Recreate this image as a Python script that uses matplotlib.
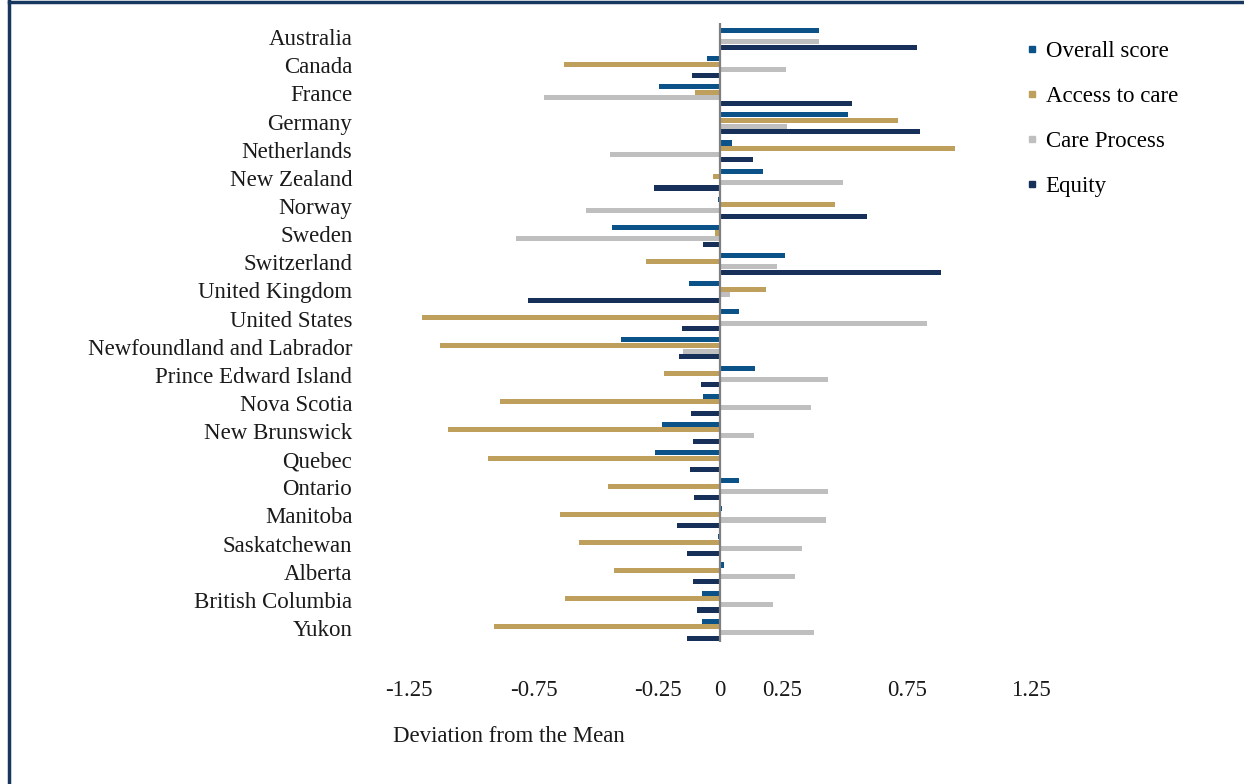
import matplotlib
matplotlib.use("Agg")
import matplotlib.pyplot as plt
from matplotlib.lines import Line2D
import numpy as np

plt.rcParams["font.family"] = ["Liberation Serif", "DejaVu Serif"]

# regions / countries, top to bottom
regions = ["Australia", "Canada", "France", "Germany", "Netherlands", "New Zealand",
           "Norway", "Sweden", "Switzerland", "United Kingdom", "United States",
           "Newfoundland and Labrador", "Prince Edward Island", "Nova Scotia",
           "New Brunswick", "Quebec", "Ontario", "Manitoba", "Saskatchewan",
           "Alberta", "British Columbia", "Yukon"]

overall = [0.395, -0.052, -0.248, 0.514, 0.048, 0.173, -0.008, -0.434, 0.261, -0.125,
           0.077, -0.398, 0.14, -0.069, -0.233, -0.264, 0.077, 0.006, -0.011, 0.014,
           -0.073, -0.073]
access = [-0.004, -0.628, -0.103, 0.716, 0.944, -0.031, 0.461, -0.023, -0.298, 0.182,
          -1.2, -1.126, -0.228, -0.887, -1.094, -0.935, -0.451, -0.643, -0.568, -0.426,
          -0.625, -0.91]
care = [0.397, 0.264, -0.71, 0.267, -0.443, 0.495, -0.54, -0.821, 0.23, 0.04,
        0.832, -0.151, 0.434, 0.363, 0.137, 0.0, 0.434, 0.423, 0.329, 0.299,
        0.211, 0.375]
equity = [0.79, -0.113, 0.529, 0.804, 0.133, -0.265, 0.588, -0.068, 0.886, -0.773,
          -0.153, -0.164, -0.077, -0.119, -0.111, -0.12, -0.105, -0.174, -0.133, -0.111,
          -0.094, -0.133]

series = [("Overall score", overall, "#0b5288"),
          ("Access to care", access, "#bf9f5c"),
          ("Care Process", care, "#bfbfbf"),
          ("Equity", equity, "#17305a")]

xticks = [-1.25, -0.75, -0.25, 0, 0.25, 0.75, 1.25]
xticklabels = ["-1.25", "-0.75", "-0.25", "0", "0.25", "0.75", "1.25"]

fs = 16.5
fig = plt.figure(figsize=(12.44, 7.84), dpi=100)
ax = fig.add_axes([0.329, 0.181, 0.5, 0.7895])

y = np.arange(len(regions))
h = 0.2
for i, (name, vals, col) in enumerate(series):
    ax.barh(y + (i - 1.5) * h + 0.06, vals, height=0.18, color=col, label=name)

ax.axvline(0, color="#7f7f7f", lw=1.6, zorder=3)
ax.set_xlim(-1.25, 1.25)
ax.set_ylim(len(regions) - 0.5, -0.5)
ax.set_yticks(y)
ax.set_yticklabels(regions, fontsize=fs, color="#1a1a1a")
ax.set_xticks(xticks)
ax.set_xticklabels(xticklabels, fontsize=fs, color="#1a1a1a")
ax.tick_params(axis="y", length=0, pad=41)
ax.tick_params(axis="x", length=0, pad=27)
for s in ax.spines.values():
    s.set_visible(False)

fig.text(393 / 1244, 1 - 736 / 784, "Deviation from the Mean", fontsize=fs,
         ha="left", va="center", color="#1a1a1a")

handles = [Line2D([], [], marker="s", linestyle="none", markersize=5,
                  color=col) for _, _, col in series]
fig.legend(handles, [s[0] for s in series], loc="upper left",
           bbox_to_anchor=(1002 / 1244, 1 - 20 / 784), frameon=False,
           fontsize=fs, labelspacing=1.05, handletextpad=0.2, handlelength=0.8)

# dark frame on left and top
border = "#17375e"
fig.add_artist(Line2D([9 / 1244, 9 / 1244], [0, 1], color=border, lw=2.5,
                      transform=fig.transFigure))
fig.add_artist(Line2D([9 / 1244, 1], [1 - 1.5 / 784, 1 - 1.5 / 784], color=border,
                      lw=2.5, transform=fig.transFigure))

fig.savefig("out.png", dpi=100, facecolor="white")
